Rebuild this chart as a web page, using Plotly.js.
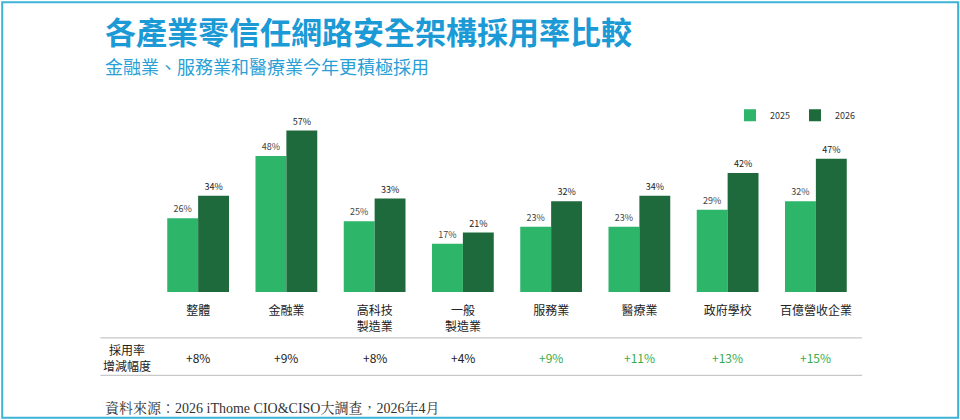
<!DOCTYPE html>
<html><head><meta charset="utf-8">
<script src="https://cdn.plot.ly/plotly-3.0.1.min.js"></script>
<style>body{margin:0}</style></head>
<body><div id="chart" style="width:960px;height:420px"></div>
<script>
const categories = ["整體","金融業","高科技<br>製造業","一般<br>製造業","服務業","醫療業","政府學校","百億營收企業"];
const v2025 = [26,48,25,17,23,23,29,32];
const v2026 = [34,57,33,21,32,34,42,47];
const deltas = ["+8%","+9%","+8%","+4%","+9%","+11%","+13%","+15%"];
const deltaGreen = [false,false,false,false,true,true,true,true];
const font = "Noto Sans CJK TC, Noto Sans, sans-serif";

const idx = categories.map((c,i)=>i);
const traces = [
  {type:'bar', name:'2025', x:idx, y:v2025, marker:{color:'#2db56a'},
   text:v2025.map(v=>v+'%'), textposition:'outside', textfont:{size:9,color:'#444'}, cliponaxis:false},
  {type:'bar', name:'2026', x:idx, y:v2026, marker:{color:'#1f6a3c'},
   text:v2026.map(v=>v+'%'), textposition:'outside', textfont:{size:9,color:'#222'}, cliponaxis:false}
];

const annotations = [
  {xref:'paper',yref:'paper',x:-0.038,xanchor:'center',y:-0.385,yanchor:'middle',text:'採用率<br>增減幅度',showarrow:false,font:{size:12,color:'#222'},align:'center'},
  {xref:'paper',yref:'paper',x:-0.072,y:-0.68,yanchor:'middle',xanchor:'left',text:'資料來源：2026 iThome CIO&CISO大調查，2026年4月',showarrow:false,
   font:{size:14,color:'#333',family:'Liberation Serif, Noto Serif CJK TC, serif'}},
  {xref:'paper',yref:'paper',x:-0.072,y:1.54,yanchor:'middle',xanchor:'left',text:'<b>各產業零信任網路安全架構採用率比較</b>',showarrow:false,
   font:{size:31,color:'#1b9ad6'}},
  {xref:'paper',yref:'paper',x:-0.072,y:1.33,yanchor:'middle',xanchor:'left',text:'金融業、服務業和醫療業今年更積極採用',showarrow:false,
   font:{size:18,color:'#2a9fd6'}}
];
idx.forEach(i=>annotations.push({x:i,xref:'x',yref:'paper',y:-0.385,yanchor:'middle',text:deltas[i],showarrow:false,
  font:{size:12,color:deltaGreen[i]?'#3aab4a':'#222'}}));

Plotly.newPlot('chart', traces, {
  width:960, height:420,
  margin:{l:154,r:100,t:122,b:128},
  font:{family:font},
  paper_bgcolor:'#fff', plot_bgcolor:'#fff',
  barmode:'group', bargap:0.3, bargroupgap:0,
  xaxis:{tickvals:idx, ticktext:categories, range:[-0.5,7.5], showline:false, ticks:'',
         tickfont:{size:12,color:'#222'}, ticklabelstandoff:10, fixedrange:true},
  yaxis:{range:[0,60], visible:false, showgrid:false, zeroline:false},
  legend:{orientation:'h', x:1.0, xanchor:'right', y:1.04, yanchor:'middle', font:{size:9,color:'#333'}},
  annotations:annotations,
  shapes:[
    {type:'line',xref:'paper',yref:'paper',x0:-0.076,x1:1.003,y0:-0.27,y1:-0.27,line:{color:'#bbb',width:1}},
    {type:'line',xref:'paper',yref:'paper',x0:-0.076,x1:1.003,y0:-0.49,y1:-0.49,line:{color:'#bbb',width:1}},
    {type:'rect',xref:'paper',yref:'paper',x0:-0.215,x1:1.139,y0:-0.74,y1:1.705,line:{color:'#3fb3d6',width:2}}
  ]
}, {displayModeBar:false});
</script></body></html>
